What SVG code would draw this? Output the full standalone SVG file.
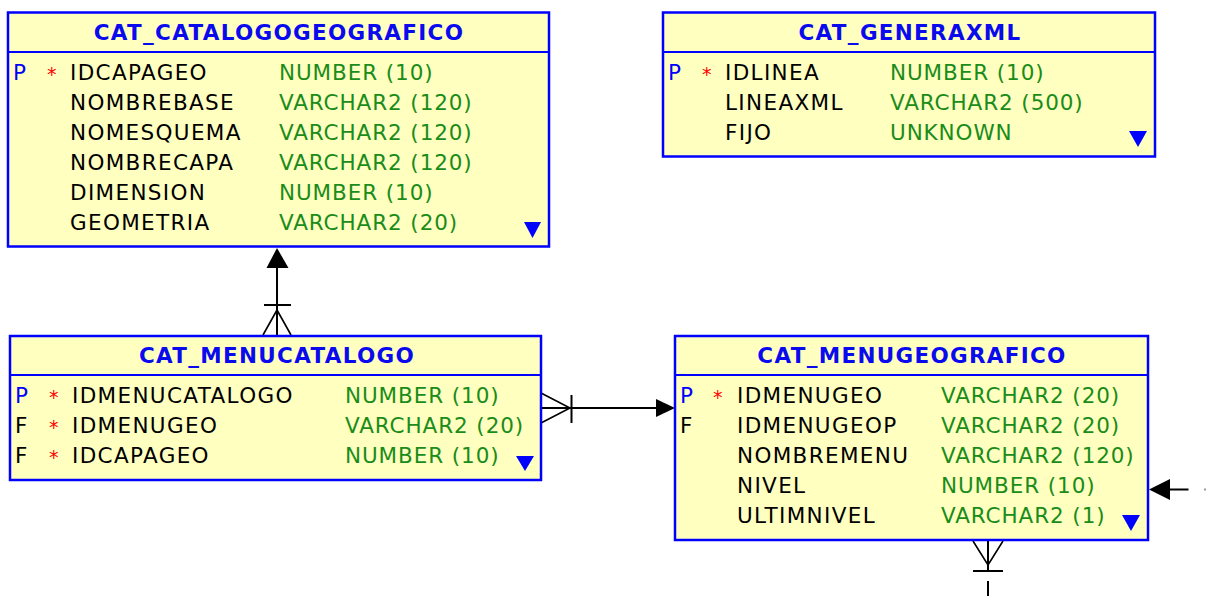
<svg xmlns="http://www.w3.org/2000/svg" width="1206" height="596" viewBox="0 0 1206 596">
<defs>
<style>
.box{fill:#ffffc0;stroke:#0000ff;stroke-width:2.5}
.sep{stroke:#0000ff;stroke-width:2}
text{font-family:"DejaVu Sans","Liberation Sans",sans-serif;font-size:21.5px}
.title{font-weight:bold;fill:#0a0aee;letter-spacing:1.3px;text-anchor:middle}
.p{fill:#0000ff}
.f{fill:#000000}
.star{fill:#ff0000;font-size:19px}
.n{fill:#000000;letter-spacing:1.35px}
.t{fill:#1a8c1a;letter-spacing:0.9px}
.tri{fill:#0000ff}
.ln{stroke:#000000;stroke-width:2;fill:none}
.cf{stroke:#000000;stroke-width:1.6;fill:none}
.ah{fill:#000000}
</style>
</defs>
<rect width="1206" height="596" fill="#ffffff"/>

<g id="connectors">
  <!-- CAT_MENUCATALOGO -> CAT_CATALOGOGEOGRAFICO -->
  <line class="ln" x1="277" y1="266" x2="277" y2="335"/>
  <polygon class="ah" points="277,248 266.5,268 288.5,268"/>
  <line class="ln" x1="264" y1="305" x2="291" y2="305"/>
  <polyline class="cf" points="263,335 277,310 291,335"/>
  <!-- CAT_MENUCATALOGO -> CAT_MENUGEOGRAFICO -->
  <line class="ln" x1="541" y1="408" x2="660" y2="408"/>
  <polygon class="ah" points="675,408 656,399 656,417"/>
  <line class="ln" x1="571.5" y1="395" x2="571.5" y2="423"/>
  <polyline class="cf" points="541,393 570,408 541,423"/>
  <!-- right side into CAT_MENUGEOGRAFICO -->
  <polygon class="ah" points="1149,489.5 1170,479 1170,500"/>
  <line class="ln" x1="1168" y1="489.5" x2="1188.5" y2="489.5"/>
  <line x1="1204" y1="489.5" x2="1206" y2="489.5" stroke="#999999" stroke-width="2"/>
  <!-- bottom from CAT_MENUGEOGRAFICO -->
  <line class="ln" x1="988" y1="541" x2="988" y2="571"/>
  <polyline class="cf" points="973,541 988,565 1003,541"/>
  <line class="ln" x1="973" y1="571" x2="1003" y2="571"/>
  <line class="ln" x1="988" y1="581" x2="988" y2="596"/>
</g>

<g id="CAT_CATALOGOGEOGRAFICO">
  <rect class="box" x="8" y="12.5" width="541" height="234"/>
  <line class="sep" x1="8" y1="52" x2="549" y2="52"/>
  <text class="title" x="279" y="40">CAT_CATALOGOGEOGRAFICO</text>
  <text class="p" x="13" y="80">P</text>
  <text class="star" x="47" y="81">*</text>
  <text class="n" x="70" y="80">IDCAPAGEO</text>
  <text class="t" x="279" y="80">NUMBER (10)</text>
  <text class="n" x="70" y="110">NOMBREBASE</text>
  <text class="t" x="279" y="110">VARCHAR2 (120)</text>
  <text class="n" x="70" y="140">NOMESQUEMA</text>
  <text class="t" x="279" y="140">VARCHAR2 (120)</text>
  <text class="n" x="70" y="170">NOMBRECAPA</text>
  <text class="t" x="279" y="170">VARCHAR2 (120)</text>
  <text class="n" x="70" y="200">DIMENSION</text>
  <text class="t" x="279" y="200">NUMBER (10)</text>
  <text class="n" x="70" y="230">GEOMETRIA</text>
  <text class="t" x="279" y="230">VARCHAR2 (20)</text>
  <polygon class="tri" points="524,222 541,222 532.5,238"/>
</g>

<g id="CAT_GENERAXML">
  <rect class="box" x="663" y="12.5" width="492" height="144"/>
  <line class="sep" x1="663" y1="52" x2="1155" y2="52"/>
  <text class="title" x="910" y="40">CAT_GENERAXML</text>
  <text class="p" x="668" y="80">P</text>
  <text class="star" x="702" y="81">*</text>
  <text class="n" x="725" y="80">IDLINEA</text>
  <text class="t" x="890" y="80">NUMBER (10)</text>
  <text class="n" x="725" y="110">LINEAXML</text>
  <text class="t" x="890" y="110">VARCHAR2 (500)</text>
  <text class="n" x="725" y="140">FIJO</text>
  <text class="t" x="890" y="140">UNKNOWN</text>
  <polygon class="tri" points="1129,131 1147,131 1138,147"/>
</g>

<g id="CAT_MENUCATALOGO">
  <rect class="box" x="10" y="336" width="531" height="144"/>
  <line class="sep" x1="10" y1="375" x2="541" y2="375"/>
  <text class="title" x="277" y="363">CAT_MENUCATALOGO</text>
  <text class="p" x="15" y="403">P</text>
  <text class="star" x="49" y="404">*</text>
  <text class="n" x="72" y="403">IDMENUCATALOGO</text>
  <text class="t" x="345" y="403">NUMBER (10)</text>
  <text class="f" x="15" y="433">F</text>
  <text class="star" x="49" y="434">*</text>
  <text class="n" x="72" y="433">IDMENUGEO</text>
  <text class="t" x="345" y="433">VARCHAR2 (20)</text>
  <text class="f" x="15" y="463">F</text>
  <text class="star" x="49" y="464">*</text>
  <text class="n" x="72" y="463">IDCAPAGEO</text>
  <text class="t" x="345" y="463">NUMBER (10)</text>
  <polygon class="tri" points="516,456 534,456 525,471"/>
</g>

<g id="CAT_MENUGEOGRAFICO">
  <rect class="box" x="675" y="336" width="473" height="204"/>
  <line class="sep" x1="675" y1="375" x2="1148" y2="375"/>
  <text class="title" x="912" y="363">CAT_MENUGEOGRAFICO</text>
  <text class="p" x="680" y="403">P</text>
  <text class="star" x="713" y="404">*</text>
  <text class="n" x="737" y="403">IDMENUGEO</text>
  <text class="t" x="941" y="403">VARCHAR2 (20)</text>
  <text class="f" x="680" y="433">F</text>
  <text class="n" x="737" y="433">IDMENUGEOP</text>
  <text class="t" x="941" y="433">VARCHAR2 (20)</text>
  <text class="n" x="737" y="463">NOMBREMENU</text>
  <text class="t" x="941" y="463">VARCHAR2 (120)</text>
  <text class="n" x="737" y="493">NIVEL</text>
  <text class="t" x="941" y="493">NUMBER (10)</text>
  <text class="n" x="737" y="523">ULTIMNIVEL</text>
  <text class="t" x="941" y="523">VARCHAR2 (1)</text>
  <polygon class="tri" points="1122,515 1140,515 1131,531"/>
</g>
</svg>
